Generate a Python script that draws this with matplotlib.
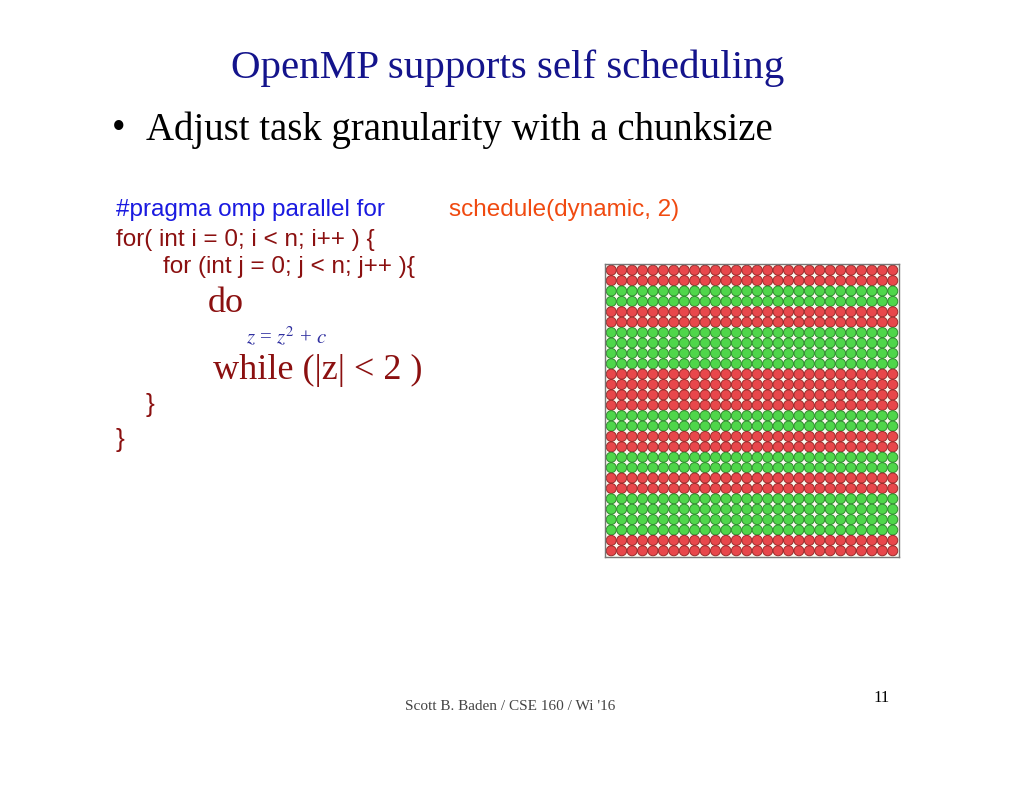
import matplotlib
matplotlib.use("Agg")
import matplotlib.pyplot as plt
import numpy as np

row_colors = list("RRGGRRGGGGRRRRGGRRGGRRGGGGRR")
n_cols = 28
palette = {"R": "#e8474b", "G": "#4fd64a"}
edge = {"R": "#9a2a2a", "G": "#2f8a2e"}

W, H = 1024, 791
fig = plt.figure(figsize=(W/100, H/100), dpi=100)
fig.patch.set_facecolor("white")

def T(x, y, s, **kw):
    fig.text(x/W, 1-y/H, s, **kw)

T(508, 68, "OpenMP supports self scheduling", ha="center", va="center",
  fontsize=29.5, color="#14148c", family="Liberation Serif")
T(112, 130, "•", ha="left", va="center", fontsize=28, color="black", family="Liberation Serif")
T(146, 130, "Adjust task granularity with a chunksize", ha="left", va="center",
  fontsize=28, color="black", family="Liberation Serif")
cs = 17.5
T(116, 210, "#pragma omp parallel for", ha="left", va="center", fontsize=cs,
  color="#1a1ae0", family="Liberation Sans")
T(449, 210, "schedule(dynamic, 2)", ha="left", va="center", fontsize=cs,
  color="#f04a10", family="Liberation Sans")
T(116, 240, "for( int i = 0; i < n; i++ ) {", ha="left", va="center", fontsize=cs,
  color="#8b1010", family="Liberation Sans")
T(163, 267, "for (int j = 0; j < n; j++ ){", ha="left", va="center", fontsize=cs,
  color="#8b1010", family="Liberation Sans")
T(208, 303, "do", ha="left", va="center", fontsize=26, color="#8b1010", family="Liberation Serif")
T(246, 337, r"$z$ = $z^2$ + $c$", ha="left", va="center", fontsize=15,
  color="#3030a0", family="Liberation Serif", math_fontfamily="stix")
T(213, 370, "while (|z| < 2 )", ha="left", va="center", fontsize=26, color="#8b1010",
  family="Liberation Serif")
T(146, 405, "}", ha="left", va="center", fontsize=19, color="#8b1010", family="Liberation Sans")
T(116, 440, "}", ha="left", va="center", fontsize=19, color="#8b1010", family="Liberation Sans")
T(510, 706, "Scott B. Baden / CSE 160 / Wi '16", ha="center", va="center", fontsize=11,
  color="#444444", family="Liberation Serif")
T(882, 698, "11", ha="center", va="center", fontsize=12, color="black", family="Liberation Serif")

ax = fig.add_axes([605/W, 1-557/H, 294/W, 293/H])
ax.set_facecolor("#fbfaf0")
n_rows = len(row_colors)
xs, ys, fc, ec = [], [], [], []
for r, c in enumerate(row_colors):
    for j in range(n_cols):
        xs.append(j); ys.append(r); fc.append(palette[c]); ec.append(edge[c])
ax.scatter(xs, ys, s=52, c=fc, edgecolors=ec, linewidths=0.7)
ax.set_xlim(-0.6, n_cols-0.4)
ax.set_ylim(n_rows-0.4, -0.6)
ax.set_xticks([]); ax.set_yticks([])
for s in ax.spines.values():
    s.set_color("#777777"); s.set_linewidth(1)

fig.savefig("out.png", dpi=100)
